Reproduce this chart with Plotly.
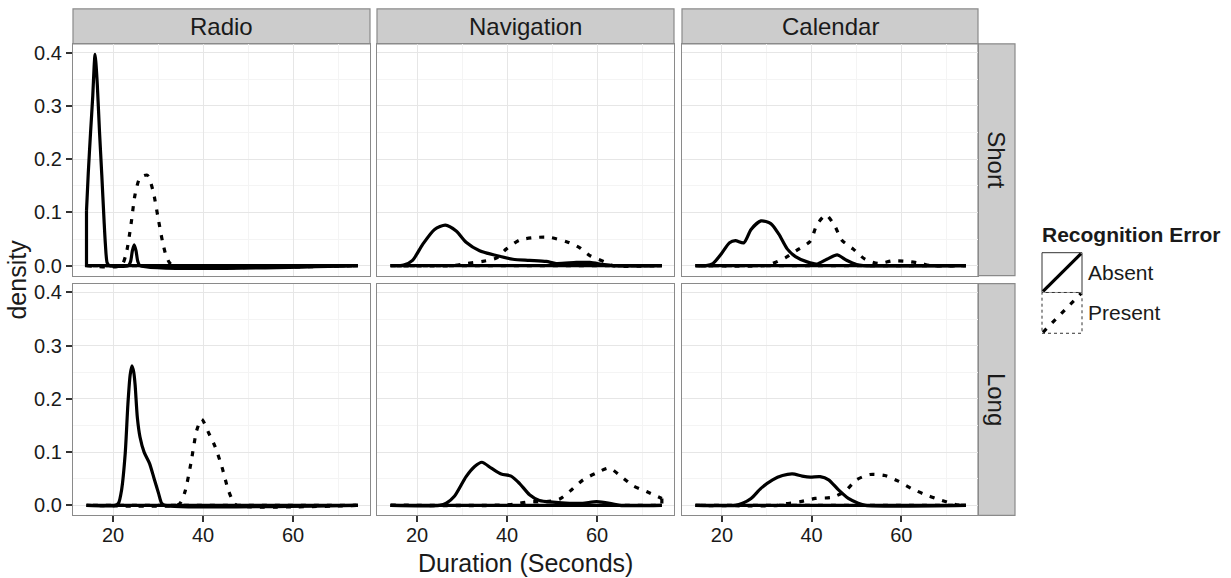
import plotly.graph_objects as go

# ---------------- data ----------------
tasks = ["Radio", "Navigation", "Calendar"]
lengths = ["Short", "Long"]
errors = ["Absent", "Present"]
x_ticks = [20, 40, 60]
y_ticks = [0.0, 0.1, 0.2, 0.3, 0.4]
x_axis_title = "Duration (Seconds)"
y_axis_title = "density"
legend_title = "Recognition Error"

# Radio / Short
radio_short_absent_x = [14.1, 14.5, 15.0, 15.5, 15.8, 16.0, 16.2, 16.5, 17.0, 17.5, 18.0, 18.3, 18.7, 19.2, 23.4, 23.9, 24.3, 24.7, 25.1, 25.5, 26.0, 74.4]
radio_short_absent_y = [0.103, 0.175, 0.25, 0.32, 0.375, 0.397, 0.38, 0.34, 0.25, 0.17, 0.085, 0.04, 0.005, 0.0, 0.0, 0.008, 0.028, 0.039, 0.028, 0.008, 0.0, 0.0]
radio_short_present_x = [14.1, 21.8, 22.9, 24.0, 24.9, 26.0, 27.6, 28.9, 30.0, 31.0, 31.8, 32.5, 33.3, 74.4]
radio_short_present_y = [0.0, 0.0, 0.022, 0.078, 0.134, 0.165, 0.170, 0.140, 0.090, 0.045, 0.018, 0.006, 0.0, 0.0]

# Navigation / Short
nav_short_absent_x = [14.1, 17.0, 19.0, 21.25, 23.9, 26.3, 28.7, 30.9, 33.9, 37.6, 41.3, 45.0, 48.7, 50.9, 55.4, 58.4, 61.4, 63.5, 74.4]
nav_short_absent_y = [0.0, 0.001, 0.010, 0.040, 0.068, 0.076, 0.065, 0.044, 0.028, 0.019, 0.012, 0.010, 0.008, 0.004, 0.006, 0.006, 0.002, 0.0, 0.0]
nav_short_present_x = [14.1, 28.0, 30.9, 34.6, 37.6, 39.8, 42.8, 46.5, 49.5, 53.2, 56.1, 58.4, 61.7, 63.5, 74.4]
nav_short_present_y = [0.0, 0.0, 0.004, 0.008, 0.014, 0.031, 0.048, 0.053, 0.053, 0.045, 0.034, 0.019, 0.007, 0.0, 0.0]

# Calendar / Short
cal_short_absent_x = [14.1, 16.5, 18.0, 19.85, 21.7, 23.0, 24.9, 26.5, 28.7, 30.9, 32.7, 34.6, 36.4, 39.0, 41.2, 43.4, 45.7, 47.8, 50.0, 51.5, 74.4]
cal_short_absent_y = [0.0, 0.0, 0.004, 0.022, 0.043, 0.047, 0.043, 0.068, 0.084, 0.079, 0.059, 0.031, 0.017, 0.007, 0.003, 0.012, 0.020, 0.010, 0.002, 0.0, 0.0]
cal_short_present_x = [14.1, 29.5, 31.3, 34.2, 37.1, 39.7, 41.2, 43.2, 45.2, 46.7, 49.3, 51.9, 54.8, 58.1, 61.4, 64.4, 66.6, 74.4]
cal_short_present_y = [0.0, 0.0, 0.004, 0.015, 0.031, 0.046, 0.077, 0.095, 0.074, 0.048, 0.031, 0.012, 0.004, 0.009, 0.008, 0.004, 0.0, 0.0]

# Radio / Long
radio_long_absent_x = [14.1, 20.5, 21.2, 21.9, 22.7, 23.3, 23.8, 24.2, 24.6, 24.9, 25.4, 26.0, 26.9, 28.1, 29.1, 30.1, 30.8, 31.5, 74.4]
radio_long_absent_y = [0.0, 0.0, 0.004, 0.029, 0.097, 0.19, 0.245, 0.262, 0.25, 0.227, 0.165, 0.128, 0.100, 0.079, 0.051, 0.023, 0.004, 0.0, 0.0]
radio_long_present_x = [14.1, 34.0, 34.9, 36.0, 37.3, 38.6, 39.7, 41.2, 42.7, 44.2, 45.6, 46.7, 47.5, 74.4]
radio_long_present_y = [0.0, 0.0, 0.004, 0.026, 0.079, 0.141, 0.162, 0.137, 0.110, 0.072, 0.029, 0.007, 0.0, 0.0]

# Navigation / Long
nav_long_absent_x = [14.1, 25.0, 26.5, 28.3, 30.9, 32.8, 34.4, 36.5, 38.7, 40.9, 42.8, 45.0, 47.2, 50.2, 53.9, 56.8, 59.9, 62.8, 65.0, 74.4]
nav_long_absent_y = [0.0, 0.0, 0.004, 0.017, 0.054, 0.073, 0.081, 0.070, 0.059, 0.055, 0.041, 0.020, 0.009, 0.006, 0.004, 0.004, 0.007, 0.004, 0.0, 0.0]
nav_long_present_x = [14.1, 38.0, 41.3, 45.0, 48.7, 51.7, 54.3, 56.9, 59.9, 62.7, 65.4, 68.0, 71.0, 74.4]
nav_long_present_y = [0.0, 0.0, 0.002, 0.007, 0.007, 0.012, 0.029, 0.048, 0.061, 0.070, 0.054, 0.037, 0.026, 0.013]

# Calendar / Long
cal_long_absent_x = [14.1, 23.0, 24.6, 26.5, 28.7, 31.3, 33.5, 35.7, 37.9, 39.7, 41.9, 43.8, 46.0, 48.2, 50.4, 52.0, 74.4]
cal_long_absent_y = [0.0, 0.0, 0.004, 0.013, 0.032, 0.048, 0.056, 0.059, 0.055, 0.053, 0.054, 0.048, 0.029, 0.013, 0.004, 0.0, 0.0]
cal_long_present_x = [14.1, 32.5, 34.2, 37.5, 40.8, 44.5, 47.4, 50.0, 53.0, 56.3, 59.2, 62.2, 65.1, 68.4, 71.0, 72.3, 74.4]
cal_long_present_y = [0.0, 0.0, 0.003, 0.007, 0.013, 0.015, 0.026, 0.048, 0.058, 0.056, 0.046, 0.032, 0.021, 0.011, 0.004, 0.001, 0.0]

curves = {
    ("Radio", "Short", "Absent"): (radio_short_absent_x, radio_short_absent_y),
    ("Radio", "Short", "Present"): (radio_short_present_x, radio_short_present_y),
    ("Navigation", "Short", "Absent"): (nav_short_absent_x, nav_short_absent_y),
    ("Navigation", "Short", "Present"): (nav_short_present_x, nav_short_present_y),
    ("Calendar", "Short", "Absent"): (cal_short_absent_x, cal_short_absent_y),
    ("Calendar", "Short", "Present"): (cal_short_present_x, cal_short_present_y),
    ("Radio", "Long", "Absent"): (radio_long_absent_x, radio_long_absent_y),
    ("Radio", "Long", "Present"): (radio_long_present_x, radio_long_present_y),
    ("Navigation", "Long", "Absent"): (nav_long_absent_x, nav_long_absent_y),
    ("Navigation", "Long", "Present"): (nav_long_present_x, nav_long_present_y),
    ("Calendar", "Long", "Absent"): (cal_long_absent_x, cal_long_absent_y),
    ("Calendar", "Long", "Present"): (cal_long_present_x, cal_long_present_y),
}

# ---------------- style / layout ----------------
W, H = 1231, 578
FONT = "Liberation Sans, Arial, Helvetica, sans-serif"
TXT = "#1a1a1a"
BORDER = "#8a8a8a"
STRIP_FILL = "#cccccc"
GRID_MAJOR = "#e6e6e6"
GRID_MINOR = "#f4f4f4"
LINE_W = 3.2
DASH = {"Absent": "solid", "Present": "5px,8px"}

def fx(p):
    return p / W

def fy(p):
    return 1 - p / H

col_px = [(73, 370), (377, 674), (682, 978)]
row_px = [(42, 275), (283, 516)]
strip_top = (7, 42)
strip_right = (978, 1015)

x_range = [11.1, 77.1]
y_range = [-0.0187, 0.4168]

fig = go.Figure()
layout = dict(
    width=W, height=H, autosize=False,
    margin=dict(l=0, r=0, t=0, b=0),
    paper_bgcolor="white", plot_bgcolor="white",
    showlegend=False,
    font=dict(family=FONT, color=TXT),
)

shapes = []
annotations = []

for r, length in enumerate(lengths):
    for c, task in enumerate(tasks):
        idx = r * 3 + c + 1
        xa = "x" if idx == 1 else f"x{idx}"
        ya = "y" if idx == 1 else f"y{idx}"
        xkey = "xaxis" if idx == 1 else f"xaxis{idx}"
        ykey = "yaxis" if idx == 1 else f"yaxis{idx}"
        bottom = (r == len(lengths) - 1)
        left = (c == 0)
        layout[xkey] = dict(
            domain=[fx(col_px[c][0]), fx(col_px[c][1])],
            anchor=ya, range=x_range,
            tickvals=x_ticks, ticktext=[str(v) for v in x_ticks],
            showticklabels=bottom, ticks="outside" if bottom else "",
            ticklen=6, tickwidth=1.5, tickcolor="#333333",
            ticklabelstandoff=-4,
            tickfont=dict(size=20, color=TXT, family=FONT),
            showgrid=True, gridcolor=GRID_MAJOR, gridwidth=1.2,
            minor=dict(dtick=10, tick0=0, showgrid=True, gridcolor=GRID_MINOR, gridwidth=1, ticks=""),
            zeroline=False, showline=True, mirror=True,
            linecolor=BORDER, linewidth=1.2,
        )
        layout[ykey] = dict(
            domain=[fy(row_px[r][1]), fy(row_px[r][0])],
            anchor=xa, range=y_range,
            tickvals=y_ticks, ticktext=[f"{v:.1f}" for v in y_ticks],
            showticklabels=left, ticks="outside" if left else "",
            ticklen=6, tickwidth=1.5, tickcolor="#333333",
            tickfont=dict(size=20, color=TXT, family=FONT),
            showgrid=True, gridcolor=GRID_MAJOR, gridwidth=1.2,
            minor=dict(dtick=0.05, tick0=0, showgrid=True, gridcolor=GRID_MINOR, gridwidth=1, ticks=""),
            zeroline=False, showline=True, mirror=True,
            linecolor=BORDER, linewidth=1.2,
        )
        for err in errors:
            xs, ys = curves[(task, length, err)]
            line = dict(color="black", width=LINE_W, dash=DASH[err])
            # density outline
            fig.add_trace(go.Scatter(
                x=xs, y=ys, mode="lines", xaxis=xa, yaxis=ya,
                line=dict(shape="spline", smoothing=0.7, **line),
                name=err, hoverinfo="x+y",
            ))
            # closing edges of the density polygon (down to baseline and back)
            fig.add_trace(go.Scatter(
                x=[xs[-1], xs[-1], xs[0], xs[0]], y=[ys[-1], 0, 0, ys[0]],
                mode="lines", xaxis=xa, yaxis=ya,
                line=dict(shape="linear", **line),
                hoverinfo="skip", name=err,
            ))

# top strips
for c, task in enumerate(tasks):
    shapes.append(dict(type="rect", xref="paper", yref="paper",
                       x0=fx(col_px[c][0]), x1=fx(col_px[c][1]),
                       y0=fy(strip_top[1]), y1=fy(strip_top[0]),
                       fillcolor=STRIP_FILL, line=dict(color=BORDER, width=1.2), layer="below"))
    annotations.append(dict(text=task, xref="paper", yref="paper",
                            x=fx((col_px[c][0] + col_px[c][1]) / 2), y=fy((strip_top[0] + strip_top[1]) / 2),
                            xanchor="center", yanchor="middle", showarrow=False,
                            font=dict(size=24, color=TXT, family=FONT)))
# right strips
for r, length in enumerate(lengths):
    shapes.append(dict(type="rect", xref="paper", yref="paper",
                       x0=fx(strip_right[0]), x1=fx(strip_right[1]),
                       y0=fy(row_px[r][1]), y1=fy(row_px[r][0]),
                       fillcolor=STRIP_FILL, line=dict(color=BORDER, width=1.2), layer="below"))
    annotations.append(dict(text=length, xref="paper", yref="paper",
                            x=fx((strip_right[0] + strip_right[1]) / 2), y=fy((row_px[r][0] + row_px[r][1]) / 2),
                            xanchor="center", yanchor="middle", showarrow=False, textangle=90,
                            font=dict(size=24, color=TXT, family=FONT)))

# axis titles
annotations.append(dict(text=x_axis_title, xref="paper", yref="paper",
                        x=fx((col_px[0][0] + col_px[2][1]) / 2), y=fy(564),
                        xanchor="center", yanchor="middle", showarrow=False,
                        font=dict(size=25, color=TXT, family=FONT)))
annotations.append(dict(text=y_axis_title, xref="paper", yref="paper",
                        x=fx(17), y=fy((row_px[0][0] + row_px[1][1]) / 2),
                        xanchor="center", yanchor="middle", showarrow=False, textangle=-90,
                        font=dict(size=25, color=TXT, family=FONT)))

# legend (ggplot-style keys)
annotations.append(dict(text=f"<b>{legend_title}</b>", xref="paper", yref="paper",
                        x=fx(1040), y=fy(234), xanchor="left", yanchor="middle", showarrow=False,
                        font=dict(size=21, color=TXT, family=FONT)))
key_x = (1042, 1082)
key_rows = [(252, 292), (292, 333)]
for i, err in enumerate(errors):
    ky0, ky1 = key_rows[i]
    shapes.append(dict(type="rect", xref="paper", yref="paper",
                       x0=fx(key_x[0]), x1=fx(key_x[1]), y0=fy(ky1), y1=fy(ky0),
                       fillcolor="white",
                       line=dict(color="#333333", width=1, dash="solid" if err == "Absent" else "3px,3px")))
    shapes.append(dict(type="line", xref="paper", yref="paper",
                       x0=fx(key_x[0] + 1), y0=fy(ky1 - 1), x1=fx(key_x[1] - 1), y1=fy(ky0 + 1),
                       line=dict(color="black", width=LINE_W, dash=DASH[err])))
    annotations.append(dict(text=err, xref="paper", yref="paper",
                            x=fx(1086), y=fy((ky0 + ky1) / 2), xanchor="left", yanchor="middle",
                            showarrow=False, font=dict(size=21, color=TXT, family=FONT)))

layout["shapes"] = shapes
layout["annotations"] = annotations
fig.update_layout(**layout)

fig.write_html("out.html")
